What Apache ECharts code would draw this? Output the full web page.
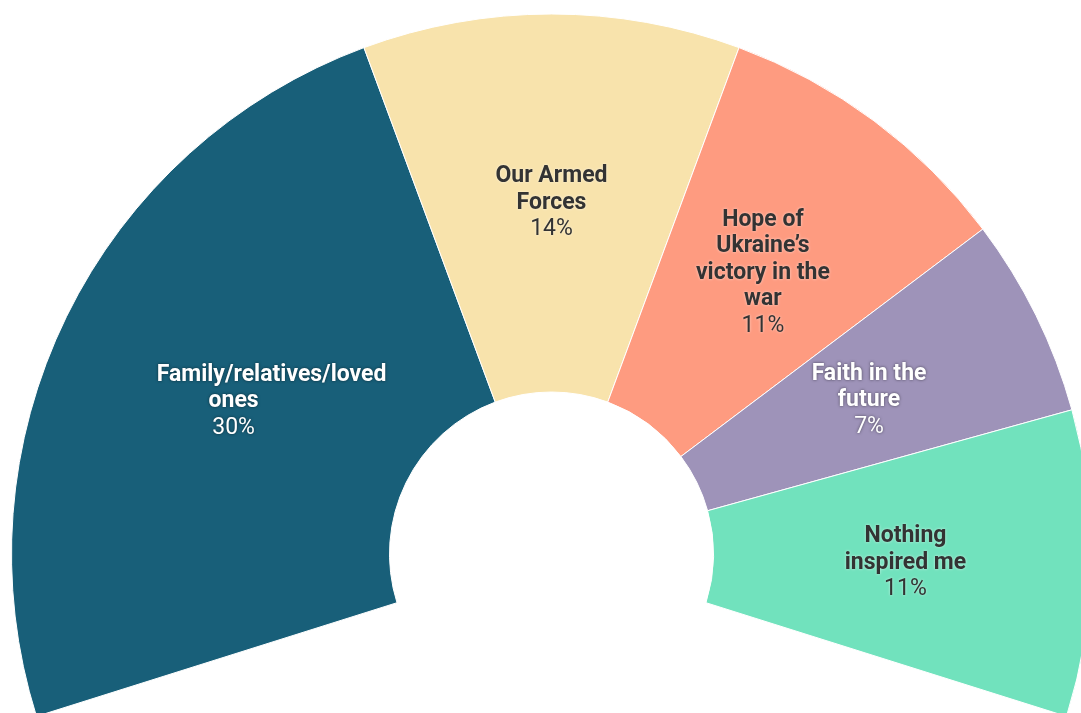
<!DOCTYPE html>
<html>
<head>
<meta charset="utf-8">
<script src="https://cdn.jsdelivr.net/npm/echarts@6/dist/echarts.min.js"></script>
<style>
html,body{margin:0;padding:0;background:#fff;}
#chart{width:1081px;height:713px;}
</style>
</head>
<body>
<div id="chart"></div>
<script>
const categories = ['Family/relatives/loved ones', 'Our Armed Forces', 'Hope of Ukraine’s victory in the war', 'Faith in the future', 'Nothing inspired me'];
const labelLines = [
  ['Family/relatives/loved', 'ones'],
  ['Our Armed', 'Forces'],
  ['Hope of', 'Ukraine’s', 'victory in the', 'war'],
  ['Faith in the', 'future'],
  ['Nothing', 'inspired me']
];
// shares (%); labels show them rounded
const values = [29.6, 13.8, 11.1, 7.3, 11.2];
const colors = ['#185f79', '#f8e3ac', '#fe9b80', '#9e93b9', '#71e2bd'];
const lightText = [true, false, false, true, false];

const chart = echarts.init(document.getElementById('chart'), null, {renderer: 'canvas'});

function makeRich(light) {
  const col = light ? '#ffffff' : '#333333';
  const sh = light ? 'rgba(0,0,0,0.55)' : 'rgba(255,255,255,0.6)';
  const base = {color: col, fontFamily: 'Roboto', fontSize: 23, lineHeight: 26.5, textShadowColor: sh, textShadowBlur: 3};
  return {
    b: Object.assign({}, base, {fontWeight: 'bold'}),
    bp: Object.assign({}, base, {fontWeight: 'bold', padding: [0, 0, 0, 76]}),
    p: Object.assign({}, base, {fontWeight: 'normal'})
  };
}

const data = categories.map((name, i) => ({
  name: name,
  value: values[i],
  itemStyle: {color: colors[i]},
  label: {
    formatter: function () {
      const lines = labelLines[i].map((l, j) => (i === 0 && j === 0 ? '{bp|' : '{b|') + l + '}');
      lines.push('{p|' + Math.round(values[i]) + '%}');
      return lines.join('\n');
    },
    rich: makeRich(lightText[i])
  }
}));

chart.setOption({
  animation: false,
  series: [{
    type: 'pie',
    center: [551.5, 554],
    radius: [162, 540],
    startAngle: 197.5,
    endAngle: -17.5,
    clockwise: true,
    avoidLabelOverlap: false,
    itemStyle: {borderColor: '#ffffff', borderWidth: 1},
    label: {show: true, position: 'inside', align: 'center', offset: [0, 3]},
    labelLine: {show: false},
    emphasis: {disabled: true},
    data: data
  }]
});
</script>
</body>
</html>
